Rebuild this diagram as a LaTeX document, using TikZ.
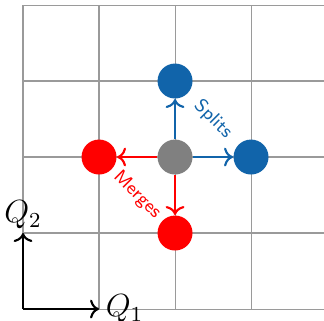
\documentclass[tikz,border=0pt]{standalone}
\usepackage{xcolor}
\usepackage{tikz}
\usetikzlibrary{positioning, arrows.meta}
\definecolor{spblue}{RGB}{17,100,170}
\definecolor{mgred}{RGB}{255,0,0}
\definecolor{stgray}{RGB}{128,128,128}

\begin{document}
\begin{tikzpicture}[
  every node/.style={font=\large},
  gridline/.style={stgray!80, line width=0.4pt},
  state/.style={circle, minimum size=0.46cm, inner sep=0pt},
  split/.style={thick, color=spblue, ->},
  merge/.style={thick, color=mgred, ->},
  axis/.style={thick, black, ->},
  tag/.style={font=\scriptsize\sffamily, rotate=-45},
]
\useasboundingbox (-0.303,-0.145) rectangle (3.96,4.066);

% ── Grid ──
\draw[gridline] (0,0) grid (4,4);

% ── States ──
\node[state, fill=stgray] (c) at (2,2) {};
\node[state, fill=spblue] (t) at (2,3) {};
\node[state, fill=spblue] (r) at (3,2) {};
\node[state, fill=mgred]  (l) at (1,2) {};
\node[state, fill=mgred]  (b) at (2,1) {};

% ── Splits ──
\draw[split] (c) -- (t); \draw[split] (c) -- (r);
\node[tag, text=spblue] (sp) at (2.5,2.5) {Splits};

% ── Merges ──
\draw[merge] (c) -- (l); \draw[merge] (c) -- (b);
\node[tag, text=mgred] (mg) at (1.5,1.5) {Merges};

% ── Axes ──
\coordinate (o) at (0,0);
\coordinate (x) at (1,0);
\coordinate (y) at (0,1);
\draw[axis] (o) -- (x); \draw[axis] (o) -- (y);
\node[right=-1pt of x] (q1) {$Q_1$};
\node[above=-2pt of y] (q2) {$Q_2$};

\end{tikzpicture}
\end{document}
